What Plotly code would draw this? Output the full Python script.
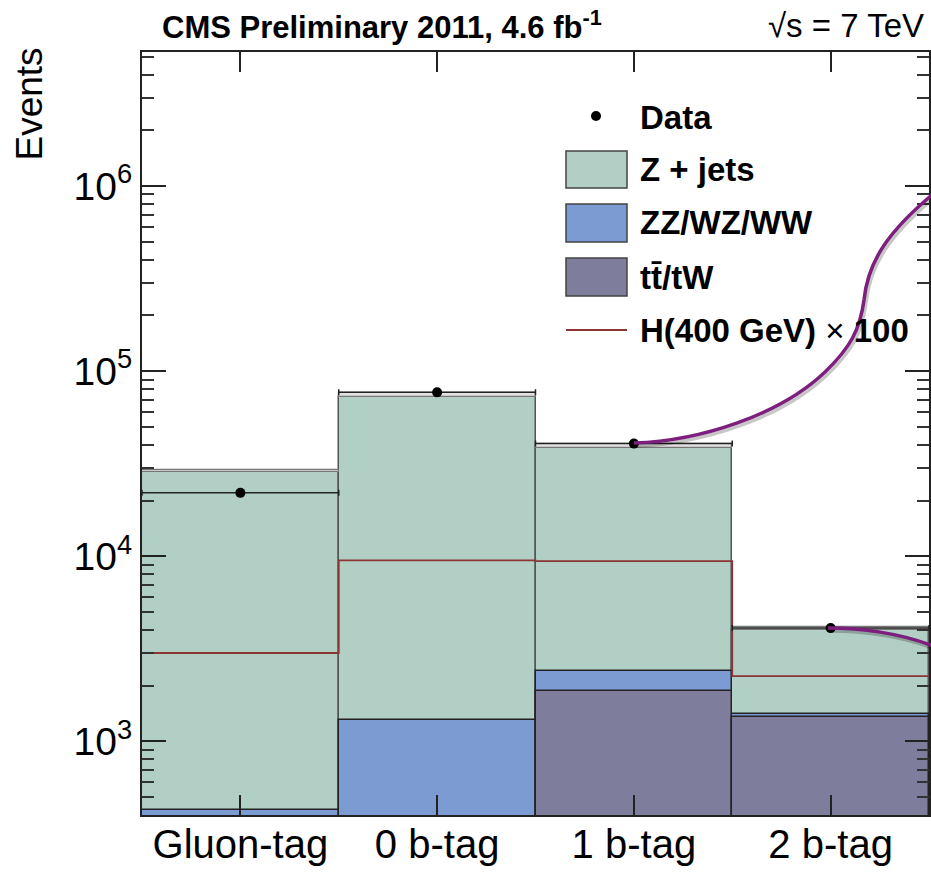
import plotly.graph_objects as go
import numpy as np

# ---------------- data ----------------
categories = ["Gluon-tag", "0 b-tag", "1 b-tag", "2 b-tag"]
data_obs = [22000, 76800, 40600, 4090]
zjets = [28176, 71300, 35810, 2570]
diboson = [374, 1150, 520, 57]
ttbar = [50, 150, 1870, 1353]
mc_unc = [500, 3500, 2300, 150]
higgs_x100 = [3000, 9500, 9400, 2250]
ytick_vals = [1e3, 1e4, 1e5, 1e6]
ytick_text = ["10<sup>3</sup>", "10<sup>4</sup>", "10<sup>5</sup>", "10<sup>6</sup>"]

# ---------------- colours ----------------
C_Z = "#b2cfc6"
C_VV = "#7b9bd2"
C_TT = "#7f7d9c"
C_H = "#8c3535"
C_PURPLE = "#7d1f7d"

W, H = 931, 872
L, R, T, B = 142, 929, 52, 815

n = len(categories)
xc = np.arange(n) + 0.5
tt_c = np.array(ttbar, float)
vv_c = tt_c + np.array(diboson, float)
z_c = vv_c + np.array(zjets, float)

fig = go.Figure()
line_dark = dict(color="#222222", width=1.5)
fig.add_trace(go.Bar(x=xc, y=z_c, width=1, marker=dict(color=C_Z, line=dict(color="#555555", width=1.5)),
                     name="Z + jets", showlegend=False))
fig.add_trace(go.Bar(x=xc, y=np.array(mc_unc, float), base=z_c, width=1,
                     marker=dict(color="#e2e2e2", line=dict(color="#777777", width=1.2)),
                     showlegend=False, hoverinfo="skip"))
fig.add_trace(go.Bar(x=xc, y=vv_c, width=1, marker=dict(color=C_VV, line=line_dark),
                     name="ZZ/WZ/WW", showlegend=False))
fig.add_trace(go.Bar(x=xc, y=tt_c, width=1, marker=dict(color=C_TT, line=line_dark),
                     name="tt/tW", showlegend=False))

edges = np.arange(n + 1)
fig.add_trace(go.Scatter(x=edges, y=list(higgs_x100) + [higgs_x100[-1]], mode="lines",
                         line=dict(color=C_H, width=1.8, shape="hv"), showlegend=False))

fig.add_trace(go.Scatter(x=xc, y=data_obs, mode="markers",
                         marker=dict(color="black", size=10),
                         error_x=dict(type="constant", value=0.5, color="#222222", thickness=1.5, width=3),
                         showlegend=False, name="Data"))

FONT = "Liberation Sans, Arial, sans-serif"
fig.update_layout(
    width=W, height=H, barmode="overlay", bargap=0,
    margin=dict(l=L, r=W - R, t=T, b=H - B, pad=0, autoexpand=False),
    plot_bgcolor="white", paper_bgcolor="white",
    font=dict(family=FONT, color="black"),
    showlegend=False,
)
fig.update_xaxes(range=[0, n], tickvals=xc, ticktext=categories, ticks="inside", ticklen=20,
                 tickwidth=1.5, tickcolor="#222222", showline=True, linecolor="#222222", linewidth=2,
                 mirror="ticks", showgrid=False, zeroline=False, automargin=False,
                 ticklabelstandoff=-7,
                 tickfont=dict(size=40, family=FONT))
fig.update_yaxes(type="log", range=[np.log10(400), 6.724], tickvals=ytick_vals, ticktext=ytick_text,
                 ticks="inside", ticklen=24, tickwidth=1.5, tickcolor="#222222",
                 showline=True, linecolor="#222222", linewidth=2, mirror="ticks", showgrid=False,
                 zeroline=False, automargin=False, tickfont=dict(size=39, family=FONT),
                 minor=dict(ticks="inside", ticklen=12, tickwidth=2, tickcolor="#333333",
                            tickvals=[k * 10 ** e for e in range(2, 7) for k in range(2, 10)]))


def px(x):
    return (x - L) / (R - L)


def py(y):
    return (B - y) / (B - T)


def path(points_cmds):
    out = []
    for cmd, pts in points_cmds:
        out.append(cmd + " " + " ".join(f"{px(a):.4f},{py(b):.4f}" for a, b in pts))
    return " ".join(out)


# ---------------- titles ----------------
fig.add_annotation(xref="paper", yref="paper", x=px(160), y=py(25), xanchor="left", yanchor="middle",
                   text="<b>CMS Preliminary 2011, 4.6 fb<sup>-1</sup></b>", showarrow=False,
                   font=dict(size=31, color="black"))
fig.add_annotation(xref="paper", yref="paper", x=px(926), y=py(25), xanchor="right", yanchor="middle",
                   text="\u221as = 7 TeV", showarrow=False, font=dict(size=33, color="black"))
fig.add_annotation(xref="paper", yref="paper", x=px(29), y=py(45), xanchor="center", yanchor="top",
                   text="Events", textangle=-90, showarrow=False, font=dict(size=37, color="black"))

# ---------------- manual legend ----------------
lx0, lx1 = 566, 627
tx = 638
LFS = 33
fig.add_shape(type="circle", xref="paper", yref="paper", x0=px(591), x1=px(601), y0=py(121), y1=py(111),
              fillcolor="black", line=dict(color="black", width=0))
fig.add_annotation(xref="paper", yref="paper", x=px(tx), y=py(117), xanchor="left", yanchor="middle",
                   text="<b>Data</b>", showarrow=False, font=dict(size=LFS))
leg_boxes = [(151, 188, C_Z, "<b>Z + jets</b>"), (204, 242, C_VV, "<b>ZZ/WZ/WW</b>"),
             (258, 296, C_TT, "<b>tt\u0304/tW</b>")]
for y0, y1, col, lab in leg_boxes:
    fig.add_shape(type="rect", xref="paper", yref="paper", x0=px(lx0), x1=px(lx1), y0=py(y1), y1=py(y0),
                  fillcolor=col, line=dict(color="#444444", width=1.5))
    fig.add_annotation(xref="paper", yref="paper", x=px(tx), y=py((y0 + y1) / 2), xanchor="left",
                       yanchor="middle", text=lab, showarrow=False, font=dict(size=LFS))
fig.add_shape(type="line", xref="paper", yref="paper", x0=px(lx0), x1=px(lx1), y0=py(330), y1=py(330),
              line=dict(color=C_H, width=2))
fig.add_annotation(xref="paper", yref="paper", x=px(tx), y=py(330), xanchor="left", yanchor="middle",
                   text="<b>H(400 GeV)</b> \u00d7 <b>100</b>", showarrow=False, font=dict(size=LFS))

# ---------------- purple hand-drawn curves ----------------
curve1 = [("M", [(634, 443)]), ("C", [(700, 441), (780, 415), (825, 372)]),
          ("C", [(850, 348), (860, 330), (864, 300)]), ("C", [(868, 260), (890, 230), (933, 194)])]
curve2 = [("M", [(828, 628)]), ("C", [(860, 628), (900, 633), (933, 646)])]


def shifted(c, dx, dy):
    return [(cmd, [(a + dx, b + dy) for a, b in pts]) for cmd, pts in c]


for c in (curve1, curve2):
    fig.add_shape(type="path", xref="paper", yref="paper", path=path(shifted(c, 2, 3)),
                  line=dict(color="rgba(0,0,0,0.22)", width=3.5))
    fig.add_shape(type="path", xref="paper", yref="paper", path=path(c),
                  line=dict(color=C_PURPLE, width=3.5))

fig.write_html("out.html")
